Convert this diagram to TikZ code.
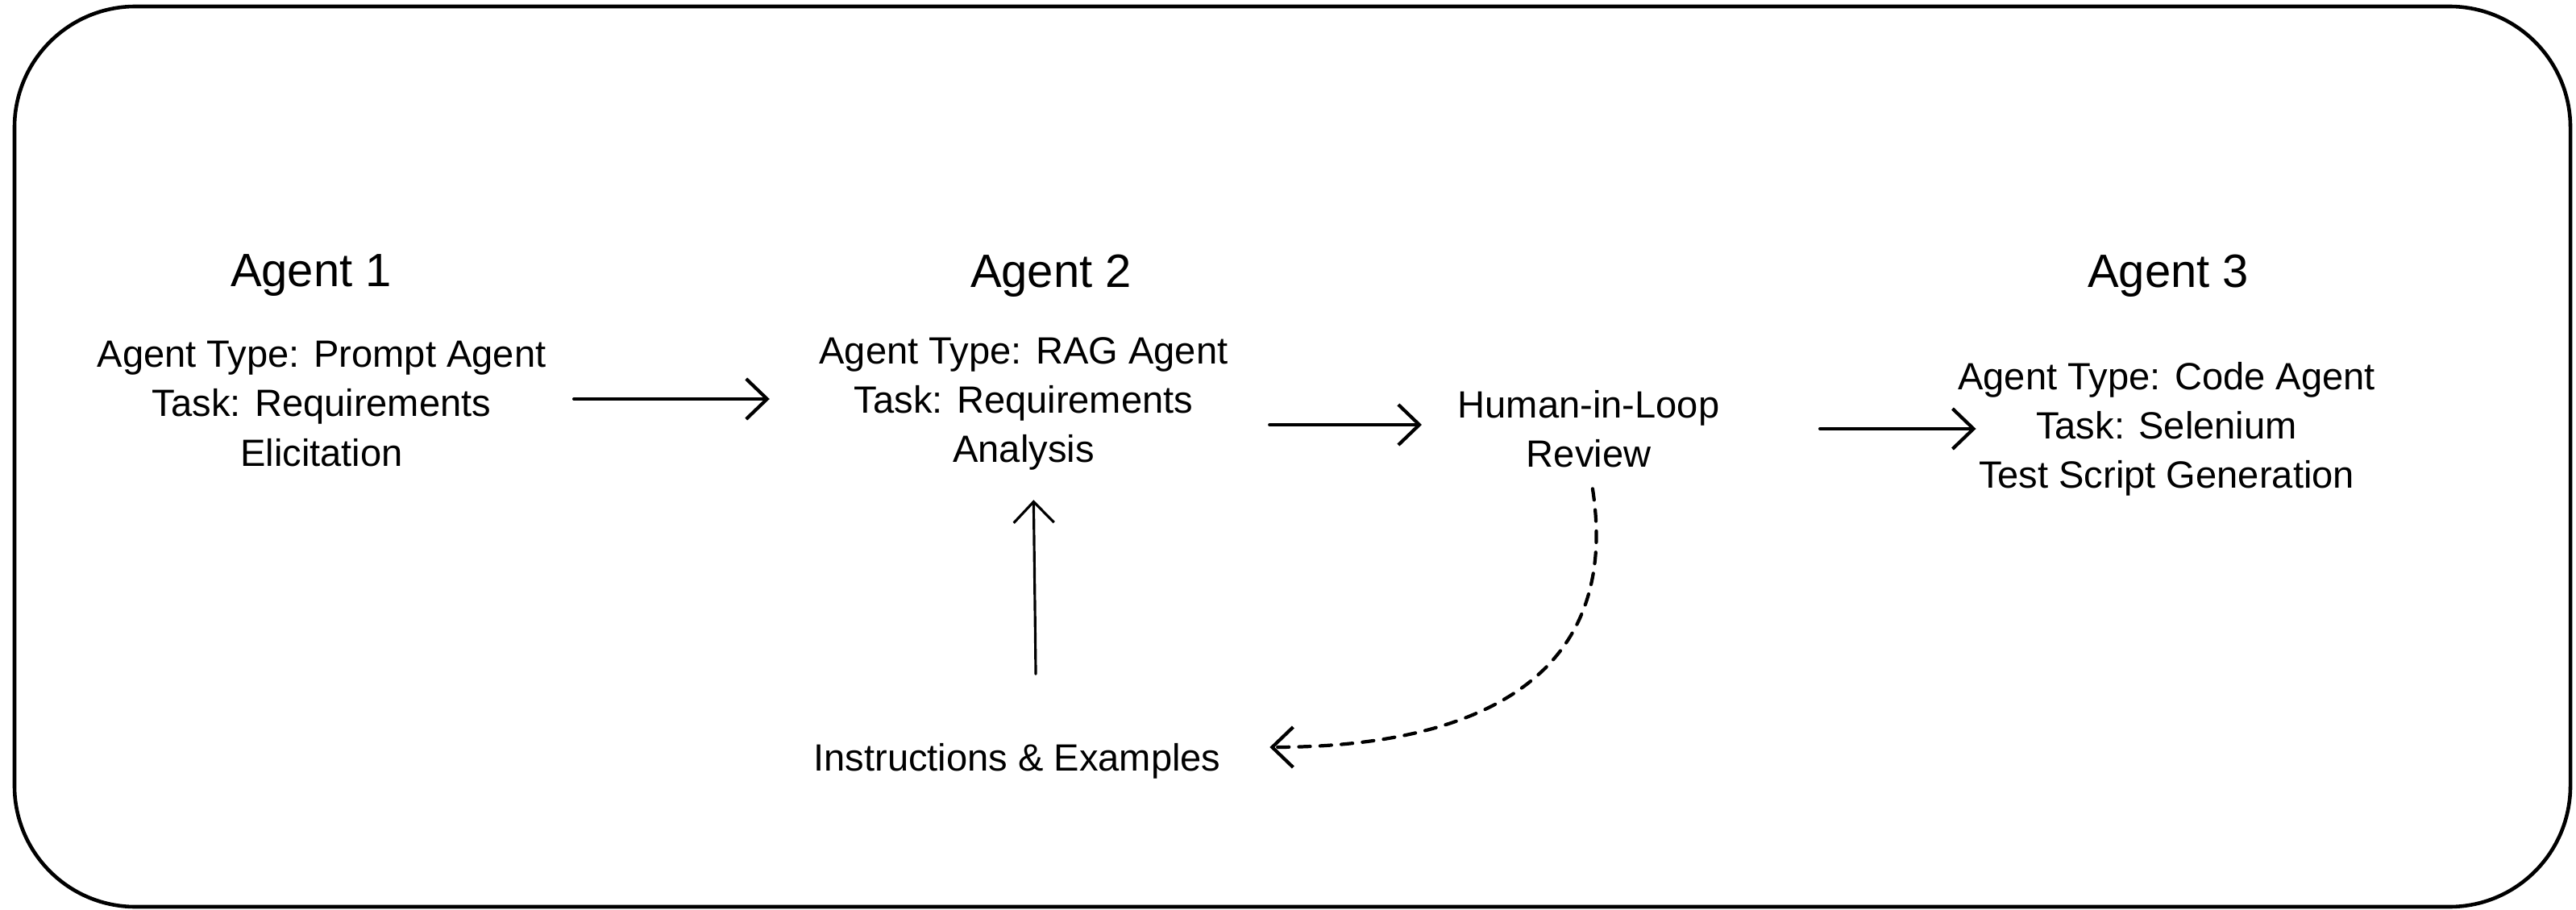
\documentclass[tikz,border=0pt]{standalone}
\usepackage{fontspec}
\setmainfont{Liberation Sans}
\usepackage{tikz}
\usetikzlibrary{arrows.meta}

\begin{document}
\begin{tikzpicture}[
	body/.style={align=center,font=\fontsize{13.4}{17.4}\selectfont,inner sep=2pt},
	head/.style={font=\fontsize{16.5}{20}\selectfont},
	flow/.style={-{Straight Barb[length=2.6mm,width=5mm]},line width=1.2pt,line cap=round},
	frame/.style={line width=1.3pt,rounded corners=1.5cm}]
		\useasboundingbox (0,0) rectangle (31.96,11.28);
		\def\hy{7.86} % height of the agent titles
		\def\ry{6.27} % row of agent 1 and 2
		\def\sy{5.96} % row of review and agent 3
		\draw[frame] (0.18,0.03) rectangle (31.89,11.20);
		\foreach \n/\x in {1/3.86,2/13.04,3/26.90}
		{
			\node[head] (t\n) at (\x,\hy) {Agent \n}; % title above each agent
		}
		
		\node[body] (a1) at (3.99,\ry) {Agent Type: Prompt Agent\\Task: Requirements\\Elicitation};
		\node[body] (a2) at (12.70,\ry) {Agent Type: RAG Agent\\Task: Requirements\\Analysis};
		\node[body] (hil) at (19.71,\sy) {Human-in-Loop\\Review};
		\node[body] (a3) at (26.88,\sy) {Agent Type: Code Agent\\Task: Selenium\\Test Script Generation};
		\node[body] (inst) at (12.62,1.84) {Instructions \& Examples};
		
		\draw[flow,shorten <=0.27cm,shorten >=0.54cm] ([yshift=0.06cm]a1.east) -- ([yshift=0.06cm]a2.west);
		\draw[flow,shorten <=0.44cm,shorten >=0.37cm] ([yshift=0.05cm]a2.east |- hil.west) -- ([yshift=0.05cm]hil.west);
		\draw[flow,shorten <=1.17cm,shorten >=-0.3cm] (hil) -- (a3);
		\draw[flow,line width=0.9pt,shorten <=0.78cm,shorten >=0.29cm] ([xshift=0.24cm]inst.north) -- ([xshift=0.12cm]a2.south);
		\draw[flow,dash pattern=on 4pt off 3.5pt,shorten <=0.19cm,shorten >=0.53cm] ([xshift=0.02cm]hil.south) .. controls +(0.4,-2.6) and +(3.0,0) .. ([yshift=0.17cm]inst.east);
\end{tikzpicture}
\end{document}
